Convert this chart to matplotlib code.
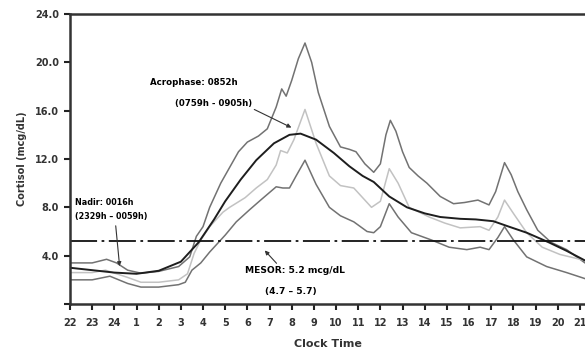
import matplotlib.pyplot as plt

# hours after 22:00 (0 = 22h, 2 = 24h, 23 = 21h)
hour_labels = ["22", "23", "24"] + [str(h) for h in range(1, 22)]

# upper band
t_upper = [0, 1.0, 1.65, 2.1, 2.6, 3.2, 4.0, 4.9, 5.4, 5.7, 6.0, 6.3, 6.8, 7.2, 7.6, 8.0,
           8.5, 8.9, 9.3, 9.55, 9.75, 10.0, 10.3, 10.6, 10.9, 11.2, 11.7, 12.2, 12.6,
           12.9, 13.3, 13.7, 14.0, 14.25, 14.45, 14.7, 15.0, 15.3, 15.7, 16.1, 16.7,
           17.3, 17.8, 18.4, 18.9, 19.2, 19.6, 19.9, 20.2, 20.6, 21.1, 21.7, 22.4, 23.23]
y_upper = [3.4, 3.4, 3.7, 3.4, 2.8, 2.55, 2.7, 3.1, 3.9, 5.6, 6.4, 8.0, 10.0, 11.3, 12.6, 13.4,
           13.9, 14.5, 16.3, 17.8, 17.2, 18.5, 20.3, 21.6, 20.0, 17.5, 14.7, 13.0, 12.8,
           12.6, 11.6, 10.9, 11.6, 14.0, 15.2, 14.3, 12.6, 11.3, 10.6, 10.0, 8.9,
           8.3, 8.4, 8.6, 8.2, 9.3, 11.7, 10.7, 9.3, 7.8, 6.1, 5.1, 4.5, 3.4]

# mean
t_mean = [0, 1.0, 1.6, 2.1, 2.6, 3.2, 4.0, 4.9, 5.3, 5.6, 5.9, 6.3, 6.9, 7.2, 7.9, 8.4,
          8.9, 9.3, 9.5, 9.8, 10.1, 10.6, 11.1, 11.7, 12.2, 12.8, 13.3, 13.6, 14.0, 14.4,
          14.8, 15.3, 16.2, 16.9, 17.6, 18.5, 18.9, 19.3, 19.6, 20.0, 20.6, 21.3, 22.1, 23.23]
y_mean = [2.6, 2.6, 2.8, 2.5, 2.2, 1.8, 1.8, 2.0, 2.5, 4.2, 5.3, 6.4, 7.6, 8.0, 8.8, 9.6,
          10.3, 11.5, 12.7, 12.5, 13.6, 16.1, 13.3, 10.6, 9.8, 9.6, 8.6, 8.0, 8.5, 11.2,
          10.0, 8.0, 7.2, 6.7, 6.3, 6.4, 6.1, 7.2, 8.6, 7.5, 5.9, 4.7, 4.1, 3.6]

# lower band
t_lower = [0, 1.0, 1.8, 2.6, 3.2, 4.0, 4.9, 5.2, 5.5, 5.9, 6.3, 7.0, 7.5, 8.1, 8.6, 9.3,
           9.6, 9.9, 10.2, 10.6, 11.1, 11.7, 12.2, 12.8, 13.4, 13.7, 14.0, 14.4, 14.8,
           15.4, 16.3, 17.1, 17.9, 18.5, 18.9, 19.3, 19.6, 20.0, 20.6, 21.5, 22.4, 23.23]
y_lower = [2.0, 2.0, 2.3, 1.7, 1.4, 1.4, 1.6, 1.8, 2.8, 3.4, 4.3, 5.7, 6.8, 7.8, 8.6, 9.7,
           9.6, 9.6, 10.6, 11.9, 9.9, 8.0, 7.3, 6.8, 6.0, 5.9, 6.4, 8.3, 7.2,
           5.9, 5.3, 4.7, 4.5, 4.7, 4.5, 5.5, 6.4, 5.3, 3.9, 3.1, 2.6, 2.1]

# cosinor fit
t_fit = [0, 1, 2, 3, 4, 5, 5.8, 6.5, 7.0, 7.7, 8.4, 9.2, 9.9, 10.4, 11.1, 11.9, 12.6,
         13.2, 13.7, 14.4, 15.2, 16.0, 16.7, 17.6, 18.3, 19.1, 19.8, 20.6, 21.6, 22.4, 23.23]
y_fit = [3.0, 2.8, 2.6, 2.5, 2.75, 3.5, 5.1, 7.0, 8.5, 10.3, 11.9, 13.3, 14.0, 14.1, 13.6,
         12.5, 11.4, 10.6, 10.1, 8.9, 8.0, 7.5, 7.2, 7.05, 7.0, 6.85, 6.4, 5.9, 5.1, 4.4, 3.6]

mesor = 5.2

plt.rcParams["font.family"] = "DejaVu Sans"
plt.rcParams["font.weight"] = "bold"

fig = plt.figure(figsize=(5.85, 3.52), dpi=100)
ax = fig.add_axes([70 / 585, 1 - 304 / 352, 515 / 585, 290 / 352])

ax.plot(t_upper, y_upper, color="#727272", lw=1.1)
ax.plot(t_lower, y_lower, color="#727272", lw=1.1)
ax.plot(t_mean, y_mean, color="#c2c2c2", lw=1.1)
ax.plot(t_fit, y_fit, color="#1e1e1e", lw=1.4)
ax.axhline(mesor, color="#111111", lw=1.3, dashes=(15, 2.5, 1.5, 2.5))

ax.set_xlim(0, 23.23)
ax.set_ylim(0, 24)
ax.set_xticks(range(24))
ax.set_xticklabels(hour_labels, fontsize=7, fontweight="bold", color="#333333")
ax.set_yticks(range(0, 25, 4))
ax.set_yticklabels([""] + [f"{v:.1f}" for v in range(4, 25, 4)], fontsize=7,
                   fontweight="bold", color="#333333")
ax.tick_params(axis="x", direction="out", length=4, width=1.5, color="#222222", pad=6)
ax.tick_params(axis="y", direction="out", length=4, width=1.5, color="#222222", pad=4)

for side in ["left", "bottom", "top"]:
    ax.spines[side].set_linewidth(1.8)
    ax.spines[side].set_color("#333333")
ax.spines["right"].set_visible(False)

ax.set_xlabel("Clock Time", fontsize=8, fontweight="bold", color="#333333", labelpad=8)
ax.set_ylabel("Cortisol (mcg/dL)", fontsize=7, fontweight="bold", color="#333333", labelpad=6)

arrow = dict(arrowstyle="-|>", color="#333333", lw=0.8, mutation_scale=6)
ax.annotate("", xy=(10.1, 14.5), xytext=(8.2, 16.2), arrowprops=arrow)
ax.text(3.6, 18.3, "Acrophase: 0852h", fontsize=6.2, fontweight="bold", va="center")
ax.text(4.75, 16.6, "(0759h - 0905h)", fontsize=6.2, fontweight="bold", va="center")

ax.annotate("", xy=(2.25, 2.9), xytext=(2.05, 6.7), arrowprops=arrow)
ax.text(0.23, 8.4, "Nadir: 0016h", fontsize=5.8, fontweight="bold", va="center")
ax.text(0.23, 7.2, "(2329h \u2013 0059h)", fontsize=5.8, fontweight="bold", va="center")

ax.annotate("", xy=(8.7, 4.6), xytext=(9.4, 3.2), arrowprops=arrow)
ax.text(10.15, 2.8, "MESOR: 5.2 mcg/dL", fontsize=6.6, fontweight="bold",
        ha="center", va="center")
ax.text(9.97, 1.0, "(4.7 \u2013 5.7)", fontsize=6.6, fontweight="bold",
        ha="center", va="center")

fig.savefig("out.png", dpi=100)
